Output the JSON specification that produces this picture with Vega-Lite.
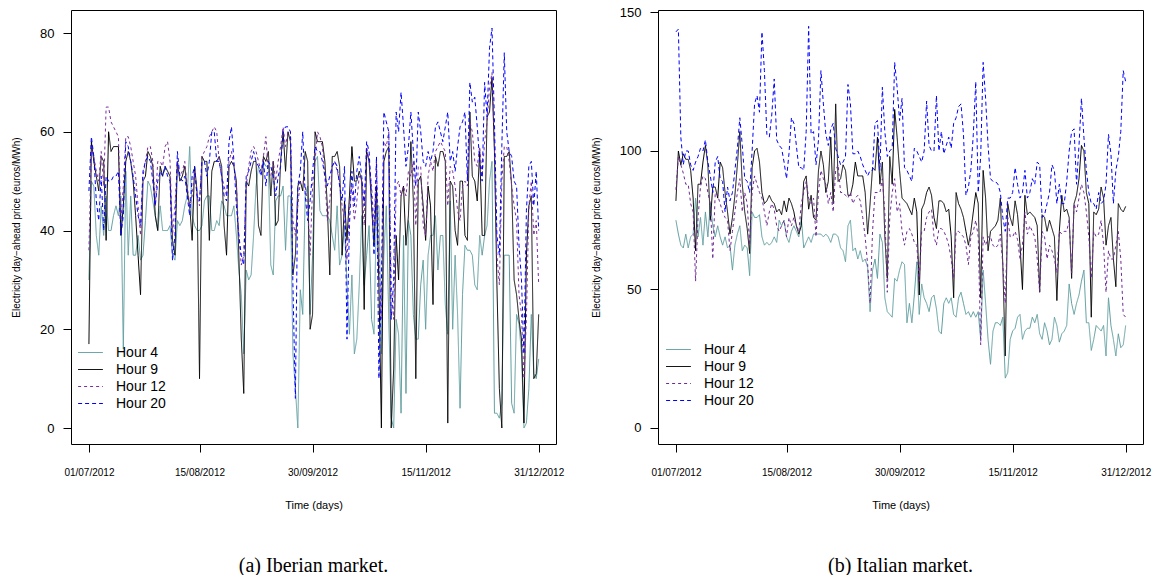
{
"$schema": "https://vega.github.io/schema/vega-lite/v6.json",
"background": "white",
"padding": {"left": 11, "top": 5, "right": 0, "bottom": 0},
"bounds": "flush",
"spacing": 102,
"datasets": {
"iberian": [
{"d":"2012-07-01","h4":30,"h9":17,"h12":36,"h20":48},
{"d":"2012-07-02","h4":50,"h9":58,"h12":57,"h20":59},
{"d":"2012-07-03","h4":49,"h9":54,"h12":55,"h20":55},
{"d":"2012-07-04","h4":39,"h9":51,"h12":52,"h20":46},
{"d":"2012-07-05","h4":35,"h9":48,"h12":50,"h20":42},
{"d":"2012-07-06","h4":45,"h9":55,"h12":56,"h20":51},
{"d":"2012-07-07","h4":39,"h9":54,"h12":49,"h20":40},
{"d":"2012-07-08","h4":47,"h9":38,"h12":65,"h20":51},
{"d":"2012-07-09","h4":40,"h9":60,"h12":65,"h20":50},
{"d":"2012-07-10","h4":40,"h9":56,"h12":62,"h20":50},
{"d":"2012-07-11","h4":43,"h9":57,"h12":61,"h20":51},
{"d":"2012-07-12","h4":45,"h9":57,"h12":60,"h20":51},
{"d":"2012-07-13","h4":43,"h9":57,"h12":59,"h20":52},
{"d":"2012-07-14","h4":47,"h9":39,"h12":42,"h20":39},
{"d":"2012-07-15","h4":16,"h9":45,"h12":49,"h20":43},
{"d":"2012-07-16","h4":52,"h9":54,"h12":59,"h20":58},
{"d":"2012-07-17","h4":35,"h9":56,"h12":59,"h20":57},
{"d":"2012-07-18","h4":47,"h9":54,"h12":57,"h20":54},
{"d":"2012-07-19","h4":35,"h9":50,"h12":54,"h20":51},
{"d":"2012-07-20","h4":35,"h9":43,"h12":51,"h20":47},
{"d":"2012-07-21","h4":39,"h9":35,"h12":45,"h20":43},
{"d":"2012-07-22","h4":34,"h9":27,"h12":39,"h20":41},
{"d":"2012-07-23","h4":35,"h9":50,"h12":51,"h20":52},
{"d":"2012-07-24","h4":42,"h9":51,"h12":54,"h20":54},
{"d":"2012-07-25","h4":50,"h9":56,"h12":57,"h20":55},
{"d":"2012-07-26","h4":49,"h9":55,"h12":57,"h20":54},
{"d":"2012-07-27","h4":46,"h9":53,"h12":54,"h20":50},
{"d":"2012-07-28","h4":43,"h9":43,"h12":45,"h20":45},
{"d":"2012-07-29","h4":40,"h9":40,"h12":54,"h20":50},
{"d":"2012-07-30","h4":45,"h9":53,"h12":54,"h20":52},
{"d":"2012-07-31","h4":40,"h9":51,"h12":53,"h20":51},
{"d":"2012-08-01","h4":40,"h9":53,"h12":57,"h20":53},
{"d":"2012-08-02","h4":40,"h9":52,"h12":58,"h20":51},
{"d":"2012-08-03","h4":41,"h9":51,"h12":54,"h20":50},
{"d":"2012-08-04","h4":35,"h9":38,"h12":39,"h20":34},
{"d":"2012-08-05","h4":34,"h9":35,"h12":45,"h20":39},
{"d":"2012-08-06","h4":42,"h9":54,"h12":54,"h20":56},
{"d":"2012-08-07","h4":41,"h9":50,"h12":51,"h20":51},
{"d":"2012-08-08","h4":42,"h9":51,"h12":52,"h20":50},
{"d":"2012-08-09","h4":45,"h9":53,"h12":54,"h20":51},
{"d":"2012-08-10","h4":47,"h9":48,"h12":49,"h20":47},
{"d":"2012-08-11","h4":57,"h9":45,"h12":45,"h20":43},
{"d":"2012-08-12","h4":43,"h9":38,"h12":47,"h20":51},
{"d":"2012-08-13","h4":41,"h9":53,"h12":52,"h20":53},
{"d":"2012-08-14","h4":40,"h9":48,"h12":47,"h20":47},
{"d":"2012-08-15","h4":40,"h9":10,"h12":45,"h20":46},
{"d":"2012-08-16","h4":41,"h9":55,"h12":55,"h20":54},
{"d":"2012-08-17","h4":46,"h9":54,"h12":56,"h20":54},
{"d":"2012-08-18","h4":47,"h9":54,"h12":57,"h20":51},
{"d":"2012-08-19","h4":47,"h9":38,"h12":59,"h20":54},
{"d":"2012-08-20","h4":40,"h9":52,"h12":60,"h20":60},
{"d":"2012-08-21","h4":40,"h9":54,"h12":61,"h20":60},
{"d":"2012-08-22","h4":42,"h9":54,"h12":60,"h20":54},
{"d":"2012-08-23","h4":41,"h9":55,"h12":54,"h20":54},
{"d":"2012-08-24","h4":46,"h9":53,"h12":51,"h20":51},
{"d":"2012-08-25","h4":45,"h9":41,"h12":49,"h20":47},
{"d":"2012-08-26","h4":43,"h9":35,"h12":47,"h20":46},
{"d":"2012-08-27","h4":43,"h9":53,"h12":54,"h20":58},
{"d":"2012-08-28","h4":43,"h9":54,"h12":56,"h20":61},
{"d":"2012-08-29","h4":45,"h9":53,"h12":53,"h20":54},
{"d":"2012-08-30","h4":39,"h9":50,"h12":49,"h20":45},
{"d":"2012-08-31","h4":32,"h9":35,"h12":39,"h20":39},
{"d":"2012-09-01","h4":27,"h9":18,"h12":33,"h20":35},
{"d":"2012-09-02","h4":15,"h9":7,"h12":35,"h20":33},
{"d":"2012-09-03","h4":32,"h9":50,"h12":49,"h20":51},
{"d":"2012-09-04","h4":30,"h9":49,"h12":53,"h20":52},
{"d":"2012-09-05","h4":31,"h9":52,"h12":56,"h20":54},
{"d":"2012-09-06","h4":39,"h9":54,"h12":57,"h20":56},
{"d":"2012-09-07","h4":49,"h9":54,"h12":56,"h20":54},
{"d":"2012-09-08","h4":53,"h9":41,"h12":54,"h20":53},
{"d":"2012-09-09","h4":52,"h9":39,"h12":52,"h20":51},
{"d":"2012-09-10","h4":54,"h9":55,"h12":55,"h20":54},
{"d":"2012-09-11","h4":53,"h9":54,"h12":59,"h20":49},
{"d":"2012-09-12","h4":53,"h9":56,"h12":52,"h20":54},
{"d":"2012-09-13","h4":33,"h9":47,"h12":51,"h20":53},
{"d":"2012-09-14","h4":31,"h9":54,"h12":54,"h20":51},
{"d":"2012-09-15","h4":46,"h9":41,"h12":50,"h20":47},
{"d":"2012-09-16","h4":47,"h9":42,"h12":54,"h20":51},
{"d":"2012-09-17","h4":47,"h9":54,"h12":57,"h20":53},
{"d":"2012-09-18","h4":49,"h9":60,"h12":61,"h20":60},
{"d":"2012-09-19","h4":36,"h9":52,"h12":57,"h20":61},
{"d":"2012-09-20","h4":47,"h9":60,"h12":60,"h20":61},
{"d":"2012-09-21","h4":47,"h9":58,"h12":60,"h20":60},
{"d":"2012-09-22","h4":15,"h9":31,"h12":42,"h20":29},
{"d":"2012-09-23","h4":8,"h9":35,"h12":39,"h20":6},
{"d":"2012-09-24","h4":0,"h9":49,"h12":45,"h20":49},
{"d":"2012-09-25","h4":28,"h9":50,"h12":50,"h20":52},
{"d":"2012-09-26","h4":23,"h9":48,"h12":50,"h20":60},
{"d":"2012-09-27","h4":47,"h9":56,"h12":49,"h20":47},
{"d":"2012-09-28","h4":49,"h9":54,"h12":45,"h20":42},
{"d":"2012-09-29","h4":23,"h9":20,"h12":35,"h20":46},
{"d":"2012-09-30","h4":35,"h9":23,"h12":49,"h20":52},
{"d":"2012-10-01","h4":54,"h9":60,"h12":54,"h20":57},
{"d":"2012-10-02","h4":55,"h9":58,"h12":60,"h20":56},
{"d":"2012-10-03","h4":44,"h9":58,"h12":59,"h20":56},
{"d":"2012-10-04","h4":43,"h9":58,"h12":57,"h20":54},
{"d":"2012-10-05","h4":43,"h9":54,"h12":51,"h20":51},
{"d":"2012-10-06","h4":43,"h9":45,"h12":42,"h20":49},
{"d":"2012-10-07","h4":42,"h9":31,"h12":46,"h20":51},
{"d":"2012-10-08","h4":39,"h9":55,"h12":53,"h20":53},
{"d":"2012-10-09","h4":36,"h9":55,"h12":54,"h20":54},
{"d":"2012-10-10","h4":45,"h9":56,"h12":52,"h20":53},
{"d":"2012-10-11","h4":33,"h9":53,"h12":50,"h20":49},
{"d":"2012-10-12","h4":35,"h9":35,"h12":45,"h20":46},
{"d":"2012-10-13","h4":41,"h9":46,"h12":42,"h20":53},
{"d":"2012-10-14","h4":29,"h9":38,"h12":34,"h20":18},
{"d":"2012-10-15","h4":19,"h9":47,"h12":45,"h20":41},
{"d":"2012-10-16","h4":31,"h9":57,"h12":49,"h20":52},
{"d":"2012-10-17","h4":15,"h9":50,"h12":42,"h20":45},
{"d":"2012-10-18","h4":18,"h9":50,"h12":46,"h20":52},
{"d":"2012-10-19","h4":29,"h9":52,"h12":51,"h20":55},
{"d":"2012-10-20","h4":43,"h9":50,"h12":50,"h20":51},
{"d":"2012-10-21","h4":29,"h9":24,"h12":41,"h20":45},
{"d":"2012-10-22","h4":35,"h9":56,"h12":57,"h20":58},
{"d":"2012-10-23","h4":41,"h9":54,"h12":54,"h20":56},
{"d":"2012-10-24","h4":22,"h9":45,"h12":49,"h20":47},
{"d":"2012-10-25","h4":19,"h9":37,"h12":41,"h20":35},
{"d":"2012-10-26","h4":45,"h9":49,"h12":54,"h20":55},
{"d":"2012-10-27","h4":45,"h9":29,"h12":35,"h20":10},
{"d":"2012-10-28","h4":15,"h9":0,"h12":22,"h20":29},
{"d":"2012-10-29","h4":35,"h9":54,"h12":58,"h20":64},
{"d":"2012-10-30","h4":45,"h9":56,"h12":57,"h20":62},
{"d":"2012-10-31","h4":22,"h9":57,"h12":60,"h20":60},
{"d":"2012-11-01","h4":2,"h9":0,"h12":29,"h20":22},
{"d":"2012-11-02","h4":0,"h9":12,"h12":22,"h20":30},
{"d":"2012-11-03","h4":22,"h9":39,"h12":49,"h20":64},
{"d":"2012-11-04","h4":19,"h9":30,"h12":50,"h20":60},
{"d":"2012-11-05","h4":3,"h9":47,"h12":47,"h20":68},
{"d":"2012-11-06","h4":39,"h9":49,"h12":49,"h20":61},
{"d":"2012-11-07","h4":7,"h9":37,"h12":47,"h20":53},
{"d":"2012-11-08","h4":42,"h9":43,"h12":52,"h20":57},
{"d":"2012-11-09","h4":39,"h9":58,"h12":51,"h20":64},
{"d":"2012-11-10","h4":23,"h9":46,"h12":54,"h20":56},
{"d":"2012-11-11","h4":18,"h9":10,"h12":41,"h20":49},
{"d":"2012-11-12","h4":18,"h9":50,"h12":53,"h20":64},
{"d":"2012-11-13","h4":29,"h9":51,"h12":53,"h20":60},
{"d":"2012-11-14","h4":34,"h9":45,"h12":41,"h20":54},
{"d":"2012-11-15","h4":20,"h9":38,"h12":39,"h20":53},
{"d":"2012-11-16","h4":35,"h9":49,"h12":51,"h20":56},
{"d":"2012-11-17","h4":39,"h9":45,"h12":54,"h20":54},
{"d":"2012-11-18","h4":39,"h9":25,"h12":52,"h20":56},
{"d":"2012-11-19","h4":43,"h9":55,"h12":56,"h20":61},
{"d":"2012-11-20","h4":32,"h9":53,"h12":57,"h20":62},
{"d":"2012-11-21","h4":39,"h9":56,"h12":58,"h20":60},
{"d":"2012-11-22","h4":39,"h9":56,"h12":57,"h20":58},
{"d":"2012-11-23","h4":25,"h9":54,"h12":56,"h20":61},
{"d":"2012-11-24","h4":19,"h9":1,"h12":45,"h20":64},
{"d":"2012-11-25","h4":46,"h9":50,"h12":53,"h20":54},
{"d":"2012-11-26","h4":20,"h9":49,"h12":52,"h20":56},
{"d":"2012-11-27","h4":35,"h9":40,"h12":49,"h20":52},
{"d":"2012-11-28","h4":23,"h9":37,"h12":44,"h20":57},
{"d":"2012-11-29","h4":4,"h9":50,"h12":42,"h20":61},
{"d":"2012-11-30","h4":27,"h9":50,"h12":49,"h20":62},
{"d":"2012-12-01","h4":37,"h9":39,"h12":50,"h20":64},
{"d":"2012-12-02","h4":36,"h9":38,"h12":49,"h20":50},
{"d":"2012-12-03","h4":36,"h9":64,"h12":62,"h20":70},
{"d":"2012-12-04","h4":35,"h9":51,"h12":60,"h20":66},
{"d":"2012-12-05","h4":29,"h9":50,"h12":54,"h20":67},
{"d":"2012-12-06","h4":28,"h9":46,"h12":53,"h20":61},
{"d":"2012-12-07","h4":39,"h9":56,"h12":57,"h20":54},
{"d":"2012-12-08","h4":35,"h9":39,"h12":51,"h20":50},
{"d":"2012-12-09","h4":39,"h9":39,"h12":58,"h20":70},
{"d":"2012-12-10","h4":41,"h9":63,"h12":62,"h20":63},
{"d":"2012-12-11","h4":50,"h9":64,"h12":69,"h20":77},
{"d":"2012-12-12","h4":54,"h9":71,"h12":72,"h20":81},
{"d":"2012-12-13","h4":3,"h9":56,"h12":57,"h20":62},
{"d":"2012-12-14","h4":3,"h9":29,"h12":35,"h20":39},
{"d":"2012-12-15","h4":2,"h9":8,"h12":29,"h20":35},
{"d":"2012-12-16","h4":5,"h9":0,"h12":50,"h20":57},
{"d":"2012-12-17","h4":35,"h9":55,"h12":57,"h20":76},
{"d":"2012-12-18","h4":35,"h9":55,"h12":57,"h20":60},
{"d":"2012-12-19","h4":35,"h9":56,"h12":54,"h20":56},
{"d":"2012-12-20","h4":5,"h9":49,"h12":49,"h20":55},
{"d":"2012-12-21","h4":3,"h9":30,"h12":45,"h20":50},
{"d":"2012-12-22","h4":23,"h9":27,"h12":42,"h20":49},
{"d":"2012-12-23","h4":21,"h9":22,"h12":27,"h20":37},
{"d":"2012-12-24","h4":15,"h9":18,"h12":23,"h20":30},
{"d":"2012-12-25","h4":0,"h9":1,"h12":10,"h20":15},
{"d":"2012-12-26","h4":1,"h9":35,"h12":22,"h20":44},
{"d":"2012-12-27","h4":8,"h9":45,"h12":45,"h20":53},
{"d":"2012-12-28","h4":23,"h9":47,"h12":50,"h20":54},
{"d":"2012-12-29","h4":11,"h9":10,"h12":39,"h20":45},
{"d":"2012-12-30","h4":10,"h9":11,"h12":42,"h20":52},
{"d":"2012-12-31","h4":14,"h9":23,"h12":29,"h20":40}
],
"italian": [
{"d":"2012-07-01","h4":75,"h9":82,"h12":86,"h20":143},
{"d":"2012-07-02","h4":70,"h9":100,"h12":98,"h20":144},
{"d":"2012-07-03","h4":66,"h9":95,"h12":95,"h20":105},
{"d":"2012-07-04","h4":65,"h9":99,"h12":92,"h20":95},
{"d":"2012-07-05","h4":70,"h9":97,"h12":88,"h20":100},
{"d":"2012-07-06","h4":65,"h9":97,"h12":88,"h20":100},
{"d":"2012-07-07","h4":69,"h9":93,"h12":81,"h20":95},
{"d":"2012-07-08","h4":70,"h9":83,"h12":78,"h20":93},
{"d":"2012-07-09","h4":83,"h9":64,"h12":53,"h20":96},
{"d":"2012-07-10","h4":69,"h9":88,"h12":76,"h20":98},
{"d":"2012-07-11","h4":76,"h9":88,"h12":87,"h20":101},
{"d":"2012-07-12","h4":66,"h9":96,"h12":91,"h20":100},
{"d":"2012-07-13","h4":78,"h9":102,"h12":90,"h20":104},
{"d":"2012-07-14","h4":69,"h9":95,"h12":85,"h20":96},
{"d":"2012-07-15","h4":81,"h9":75,"h12":81,"h20":91},
{"d":"2012-07-16","h4":73,"h9":87,"h12":61,"h20":85},
{"d":"2012-07-17","h4":69,"h9":87,"h12":85,"h20":96},
{"d":"2012-07-18","h4":73,"h9":83,"h12":84,"h20":98},
{"d":"2012-07-19","h4":69,"h9":96,"h12":81,"h20":90},
{"d":"2012-07-20","h4":66,"h9":94,"h12":78,"h20":89},
{"d":"2012-07-21","h4":69,"h9":85,"h12":76,"h20":78},
{"d":"2012-07-22","h4":65,"h9":78,"h12":75,"h20":87},
{"d":"2012-07-23","h4":66,"h9":70,"h12":64,"h20":82},
{"d":"2012-07-24","h4":57,"h9":76,"h12":71,"h20":85},
{"d":"2012-07-25","h4":66,"h9":84,"h12":78,"h20":93},
{"d":"2012-07-26","h4":70,"h9":95,"h12":85,"h20":101},
{"d":"2012-07-27","h4":73,"h9":107,"h12":90,"h20":112},
{"d":"2012-07-28","h4":64,"h9":88,"h12":78,"h20":102},
{"d":"2012-07-29","h4":66,"h9":78,"h12":85,"h20":90},
{"d":"2012-07-30","h4":65,"h9":72,"h12":81,"h20":89},
{"d":"2012-07-31","h4":55,"h9":63,"h12":66,"h20":85},
{"d":"2012-08-01","h4":78,"h9":94,"h12":85,"h20":100},
{"d":"2012-08-02","h4":76,"h9":100,"h12":91,"h20":117},
{"d":"2012-08-03","h4":76,"h9":101,"h12":88,"h20":120},
{"d":"2012-08-04","h4":77,"h9":96,"h12":85,"h20":114},
{"d":"2012-08-05","h4":69,"h9":85,"h12":83,"h20":143},
{"d":"2012-08-06","h4":66,"h9":81,"h12":78,"h20":129},
{"d":"2012-08-07","h4":67,"h9":82,"h12":73,"h20":106},
{"d":"2012-08-08","h4":66,"h9":84,"h12":78,"h20":105},
{"d":"2012-08-09","h4":67,"h9":82,"h12":81,"h20":113},
{"d":"2012-08-10","h4":69,"h9":81,"h12":79,"h20":126},
{"d":"2012-08-11","h4":67,"h9":78,"h12":73,"h20":104},
{"d":"2012-08-12","h4":75,"h9":79,"h12":71,"h20":102},
{"d":"2012-08-13","h4":73,"h9":77,"h12":73,"h20":101},
{"d":"2012-08-14","h4":75,"h9":82,"h12":75,"h20":96},
{"d":"2012-08-15","h4":69,"h9":78,"h12":69,"h20":90},
{"d":"2012-08-16","h4":67,"h9":83,"h12":76,"h20":99},
{"d":"2012-08-17","h4":71,"h9":81,"h12":73,"h20":112},
{"d":"2012-08-18","h4":73,"h9":78,"h12":76,"h20":110},
{"d":"2012-08-19","h4":71,"h9":73,"h12":73,"h20":102},
{"d":"2012-08-20","h4":69,"h9":70,"h12":71,"h20":94},
{"d":"2012-08-21","h4":76,"h9":73,"h12":81,"h20":94},
{"d":"2012-08-22","h4":65,"h9":89,"h12":85,"h20":93},
{"d":"2012-08-23","h4":67,"h9":91,"h12":89,"h20":107},
{"d":"2012-08-24","h4":69,"h9":79,"h12":83,"h20":145},
{"d":"2012-08-25","h4":67,"h9":84,"h12":81,"h20":106},
{"d":"2012-08-26","h4":70,"h9":76,"h12":83,"h20":107},
{"d":"2012-08-27","h4":70,"h9":75,"h12":69,"h20":95},
{"d":"2012-08-28","h4":70,"h9":93,"h12":85,"h20":104},
{"d":"2012-08-29","h4":70,"h9":100,"h12":93,"h20":129},
{"d":"2012-08-30","h4":69,"h9":95,"h12":90,"h20":117},
{"d":"2012-08-31","h4":70,"h9":85,"h12":88,"h20":106},
{"d":"2012-09-01","h4":69,"h9":89,"h12":81,"h20":102},
{"d":"2012-09-02","h4":67,"h9":105,"h12":85,"h20":108},
{"d":"2012-09-03","h4":70,"h9":81,"h12":78,"h20":110},
{"d":"2012-09-04","h4":70,"h9":117,"h12":93,"h20":101},
{"d":"2012-09-05","h4":69,"h9":89,"h12":95,"h20":98},
{"d":"2012-09-06","h4":65,"h9":90,"h12":85,"h20":95},
{"d":"2012-09-07","h4":64,"h9":95,"h12":85,"h20":96},
{"d":"2012-09-08","h4":60,"h9":93,"h12":84,"h20":98},
{"d":"2012-09-09","h4":73,"h9":84,"h12":83,"h20":124},
{"d":"2012-09-10","h4":75,"h9":84,"h12":85,"h20":117},
{"d":"2012-09-11","h4":64,"h9":88,"h12":81,"h20":99},
{"d":"2012-09-12","h4":65,"h9":96,"h12":83,"h20":99},
{"d":"2012-09-13","h4":61,"h9":91,"h12":84,"h20":100},
{"d":"2012-09-14","h4":64,"h9":91,"h12":82,"h20":98},
{"d":"2012-09-15","h4":60,"h9":91,"h12":76,"h20":95},
{"d":"2012-09-16","h4":61,"h9":85,"h12":69,"h20":93},
{"d":"2012-09-17","h4":58,"h9":70,"h12":59,"h20":91},
{"d":"2012-09-18","h4":42,"h9":81,"h12":45,"h20":93},
{"d":"2012-09-19","h4":57,"h9":94,"h12":71,"h20":93},
{"d":"2012-09-20","h4":61,"h9":93,"h12":85,"h20":110},
{"d":"2012-09-21","h4":54,"h9":105,"h12":85,"h20":111},
{"d":"2012-09-22","h4":70,"h9":88,"h12":85,"h20":93},
{"d":"2012-09-23","h4":67,"h9":96,"h12":90,"h20":123},
{"d":"2012-09-24","h4":47,"h9":69,"h12":78,"h20":107},
{"d":"2012-09-25","h4":42,"h9":54,"h12":49,"h20":98},
{"d":"2012-09-26","h4":41,"h9":98,"h12":76,"h20":100},
{"d":"2012-09-27","h4":40,"h9":88,"h12":85,"h20":101},
{"d":"2012-09-28","h4":54,"h9":115,"h12":90,"h20":132},
{"d":"2012-09-29","h4":53,"h9":105,"h12":78,"h20":123},
{"d":"2012-09-30","h4":57,"h9":93,"h12":81,"h20":111},
{"d":"2012-10-01","h4":60,"h9":83,"h12":71,"h20":119},
{"d":"2012-10-02","h4":59,"h9":82,"h12":66,"h20":94},
{"d":"2012-10-03","h4":38,"h9":81,"h12":71,"h20":93},
{"d":"2012-10-04","h4":45,"h9":79,"h12":72,"h20":91},
{"d":"2012-10-05","h4":38,"h9":77,"h12":70,"h20":89},
{"d":"2012-10-06","h4":48,"h9":83,"h12":67,"h20":101},
{"d":"2012-10-07","h4":60,"h9":78,"h12":66,"h20":100},
{"d":"2012-10-08","h4":41,"h9":48,"h12":53,"h20":98},
{"d":"2012-10-09","h4":52,"h9":79,"h12":71,"h20":96},
{"d":"2012-10-10","h4":47,"h9":81,"h12":71,"h20":100},
{"d":"2012-10-11","h4":45,"h9":85,"h12":76,"h20":118},
{"d":"2012-10-12","h4":42,"h9":87,"h12":78,"h20":102},
{"d":"2012-10-13","h4":47,"h9":84,"h12":79,"h20":100},
{"d":"2012-10-14","h4":48,"h9":76,"h12":69,"h20":100},
{"d":"2012-10-15","h4":43,"h9":72,"h12":66,"h20":120},
{"d":"2012-10-16","h4":35,"h9":82,"h12":72,"h20":100},
{"d":"2012-10-17","h4":34,"h9":82,"h12":72,"h20":107},
{"d":"2012-10-18","h4":45,"h9":81,"h12":71,"h20":99},
{"d":"2012-10-19","h4":47,"h9":78,"h12":69,"h20":102},
{"d":"2012-10-20","h4":45,"h9":79,"h12":66,"h20":105},
{"d":"2012-10-21","h4":47,"h9":69,"h12":61,"h20":101},
{"d":"2012-10-22","h4":41,"h9":47,"h12":54,"h20":110},
{"d":"2012-10-23","h4":40,"h9":85,"h12":71,"h20":112},
{"d":"2012-10-24","h4":47,"h9":81,"h12":71,"h20":116},
{"d":"2012-10-25","h4":49,"h9":79,"h12":70,"h20":117},
{"d":"2012-10-26","h4":45,"h9":76,"h12":69,"h20":106},
{"d":"2012-10-27","h4":41,"h9":71,"h12":66,"h20":84},
{"d":"2012-10-28","h4":42,"h9":66,"h12":59,"h20":87},
{"d":"2012-10-29","h4":40,"h9":71,"h12":69,"h20":93},
{"d":"2012-10-30","h4":42,"h9":78,"h12":71,"h20":106},
{"d":"2012-10-31","h4":40,"h9":85,"h12":75,"h20":125},
{"d":"2012-11-01","h4":42,"h9":81,"h12":69,"h20":85},
{"d":"2012-11-02","h4":32,"h9":47,"h12":30,"h20":98},
{"d":"2012-11-03","h4":57,"h9":93,"h12":69,"h20":132},
{"d":"2012-11-04","h4":45,"h9":83,"h12":66,"h20":119},
{"d":"2012-11-05","h4":32,"h9":64,"h12":69,"h20":102},
{"d":"2012-11-06","h4":23,"h9":71,"h12":69,"h20":90},
{"d":"2012-11-07","h4":35,"h9":72,"h12":66,"h20":89},
{"d":"2012-11-08","h4":38,"h9":73,"h12":65,"h20":89},
{"d":"2012-11-09","h4":38,"h9":75,"h12":66,"h20":88},
{"d":"2012-11-10","h4":37,"h9":83,"h12":70,"h20":85},
{"d":"2012-11-11","h4":40,"h9":59,"h12":59,"h20":76},
{"d":"2012-11-12","h4":18,"h9":26,"h12":45,"h20":71},
{"d":"2012-11-13","h4":20,"h9":81,"h12":76,"h20":83},
{"d":"2012-11-14","h4":32,"h9":76,"h12":69,"h20":83},
{"d":"2012-11-15","h4":35,"h9":73,"h12":69,"h20":85},
{"d":"2012-11-16","h4":36,"h9":82,"h12":71,"h20":94},
{"d":"2012-11-17","h4":40,"h9":77,"h12":68,"h20":88},
{"d":"2012-11-18","h4":41,"h9":66,"h12":61,"h20":83},
{"d":"2012-11-19","h4":32,"h9":50,"h12":66,"h20":85},
{"d":"2012-11-20","h4":35,"h9":84,"h12":78,"h20":93},
{"d":"2012-11-21","h4":36,"h9":77,"h12":70,"h20":83},
{"d":"2012-11-22","h4":36,"h9":78,"h12":73,"h20":85},
{"d":"2012-11-23","h4":40,"h9":77,"h12":71,"h20":90},
{"d":"2012-11-24","h4":38,"h9":76,"h12":69,"h20":88},
{"d":"2012-11-25","h4":41,"h9":73,"h12":61,"h20":96},
{"d":"2012-11-26","h4":34,"h9":49,"h12":49,"h20":95},
{"d":"2012-11-27","h4":32,"h9":77,"h12":71,"h20":76},
{"d":"2012-11-28","h4":38,"h9":76,"h12":69,"h20":77},
{"d":"2012-11-29","h4":35,"h9":71,"h12":61,"h20":81},
{"d":"2012-11-30","h4":30,"h9":75,"h12":66,"h20":85},
{"d":"2012-12-01","h4":32,"h9":72,"h12":64,"h20":95},
{"d":"2012-12-02","h4":40,"h9":69,"h12":61,"h20":93},
{"d":"2012-12-03","h4":37,"h9":46,"h12":56,"h20":81},
{"d":"2012-12-04","h4":31,"h9":71,"h12":71,"h20":88},
{"d":"2012-12-05","h4":34,"h9":84,"h12":70,"h20":81},
{"d":"2012-12-06","h4":35,"h9":78,"h12":71,"h20":81},
{"d":"2012-12-07","h4":37,"h9":79,"h12":71,"h20":89},
{"d":"2012-12-08","h4":52,"h9":76,"h12":75,"h20":100},
{"d":"2012-12-09","h4":45,"h9":54,"h12":56,"h20":107},
{"d":"2012-12-10","h4":41,"h9":81,"h12":81,"h20":108},
{"d":"2012-12-11","h4":45,"h9":84,"h12":78,"h20":88},
{"d":"2012-12-12","h4":48,"h9":90,"h12":83,"h20":102},
{"d":"2012-12-13","h4":53,"h9":102,"h12":88,"h20":119},
{"d":"2012-12-14","h4":57,"h9":100,"h12":85,"h20":105},
{"d":"2012-12-15","h4":38,"h9":85,"h12":78,"h20":93},
{"d":"2012-12-16","h4":38,"h9":81,"h12":69,"h20":85},
{"d":"2012-12-17","h4":28,"h9":40,"h12":54,"h20":81},
{"d":"2012-12-18","h4":32,"h9":78,"h12":71,"h20":81},
{"d":"2012-12-19","h4":37,"h9":77,"h12":69,"h20":79},
{"d":"2012-12-20","h4":36,"h9":79,"h12":70,"h20":85},
{"d":"2012-12-21","h4":35,"h9":87,"h12":75,"h20":81},
{"d":"2012-12-22","h4":37,"h9":83,"h12":66,"h20":82},
{"d":"2012-12-23","h4":26,"h9":66,"h12":49,"h20":88},
{"d":"2012-12-24","h4":47,"h9":73,"h12":64,"h20":106},
{"d":"2012-12-25","h4":37,"h9":76,"h12":61,"h20":99},
{"d":"2012-12-26","h4":32,"h9":61,"h12":61,"h20":81},
{"d":"2012-12-27","h4":26,"h9":51,"h12":66,"h20":93},
{"d":"2012-12-28","h4":34,"h9":81,"h12":71,"h20":98},
{"d":"2012-12-29","h4":29,"h9":79,"h12":61,"h20":107},
{"d":"2012-12-30","h4":30,"h9":78,"h12":41,"h20":129},
{"d":"2012-12-31","h4":37,"h9":80,"h12":40,"h20":125}
]
},
"hconcat": [
{
"width": 485, "height": 434,
"data": {"name": "iberian"},
"transform": [{"fold": ["h4", "h9", "h12", "h20"], "as": ["series", "price"]}],
"title": {"text": "(a) Iberian market.", "orient": "bottom", "frame": "group", "anchor": "middle", "offset": 46},
"mark": {"type": "line", "strokeWidth": 1},
"encoding": {
"x": {"field": "d", "type": "temporal",
"scale": {"type": "utc", "domain": [{"year": 2012, "month": 6, "date": 23, "hours": 17, "utc": true}, {"year": 2013, "month": 1, "date": 7, "hours": 1, "utc": true}]},
"axis": {"values": [{"year": 2012, "month": 7, "date": 1, "utc": true}, {"year": 2012, "month": 8, "date": 15, "utc": true}, {"year": 2012, "month": 9, "date": 30, "utc": true}, {"year": 2012, "month": 11, "date": 15, "utc": true}, {"year": 2012, "month": 12, "date": 31, "utc": true}], "labelExpr": "utcFormat(datum.value, '%d/%m/%Y')", "title": "Time (days)", "labelFontSize": 10, "titleFontSize": 11, "tickSize": 8, "labelPadding": 15, "titlePadding": 22, "labelFlush": false, "labelOverlap": false}},
"y": {"field": "price", "type": "quantitative",
"scale": {"domain": [-3.24, 84.66], "nice": false, "zero": false},
"axis": {"values": [0, 20, 40, 60, 80], "title": "Electricity day−ahead price (euros/MWh)", "labelFontSize": 13, "titleFontSize": 10, "tickSize": 8, "labelPadding": 9, "titlePadding": 18}},
"color": {"field": "series", "type": "nominal",
"scale": {"domain": ["h4", "h9", "h12", "h20"], "range": ["#5F9EA0", "#000000", "#7B2F9E", "#0000FF"]},
"legend": {"orient": "none", "legendX": 11, "legendY": 334, "title": null, "labelExpr": "'Hour ' + slice(datum.label, 1)",
"encode": {"symbols": {"update": {
"stroke": {"signal": "datum.value === 'h4' ? '#5F9EA0' : datum.value === 'h9' ? '#000000' : datum.value === 'h12' ? '#7B2F9E' : '#0000FF'"},
"strokeDash": {"signal": "datum.value === 'h12' ? [3,3] : datum.value === 'h20' ? [4,3] : [1,0]"}}}}}},
"strokeDash": {"field": "series", "type": "nominal",
"scale": {"domain": ["h4", "h9", "h12", "h20"], "range": [[1, 0], [1, 0], [3, 3], [4, 3]]},
"legend": null}
}
},
{
"width": 485, "height": 434,
"data": {"name": "italian"},
"transform": [{"fold": ["h4", "h9", "h12", "h20"], "as": ["series", "price"]}],
"title": {"text": "(b) Italian market.", "orient": "bottom", "frame": "group", "anchor": "middle", "offset": 46},
"mark": {"type": "line", "strokeWidth": 1},
"encoding": {
"x": {"field": "d", "type": "temporal",
"scale": {"type": "utc", "domain": [{"year": 2012, "month": 6, "date": 23, "hours": 17, "utc": true}, {"year": 2013, "month": 1, "date": 7, "hours": 1, "utc": true}]},
"axis": {"values": [{"year": 2012, "month": 7, "date": 1, "utc": true}, {"year": 2012, "month": 8, "date": 15, "utc": true}, {"year": 2012, "month": 9, "date": 30, "utc": true}, {"year": 2012, "month": 11, "date": 15, "utc": true}, {"year": 2012, "month": 12, "date": 31, "utc": true}], "labelExpr": "utcFormat(datum.value, '%d/%m/%Y')", "title": "Time (days)", "labelFontSize": 10, "titleFontSize": 11, "tickSize": 8, "labelPadding": 15, "titlePadding": 22, "labelFlush": false, "labelOverlap": false}},
"y": {"field": "price", "type": "quantitative",
"scale": {"domain": [-5.78, 150.9], "nice": false, "zero": false},
"axis": {"values": [0, 50, 100, 150], "title": "Electricity day−ahead price (euros/MWh)", "labelFontSize": 13, "titleFontSize": 10, "tickSize": 8, "labelPadding": 9, "titlePadding": 18}},
"color": {"field": "series", "type": "nominal",
"scale": {"domain": ["h4", "h9", "h12", "h20"], "range": ["#5F9EA0", "#000000", "#6E2A96", "#0000FF"]},
"legend": {"orient": "none", "legendX": 12, "legendY": 331, "title": null, "labelExpr": "'Hour ' + slice(datum.label, 1)",
"encode": {"symbols": {"update": {
"stroke": {"signal": "datum.value === 'h4' ? '#5F9EA0' : datum.value === 'h9' ? '#000000' : datum.value === 'h12' ? '#6E2A96' : '#0000FF'"},
"strokeDash": {"signal": "datum.value === 'h12' ? [3,3] : datum.value === 'h20' ? [4,3] : [1,0]"}}}}}},
"strokeDash": {"field": "series", "type": "nominal",
"scale": {"domain": ["h4", "h9", "h12", "h20"], "range": [[1, 0], [1, 0], [3, 3], [4, 3]]},
"legend": null}
}
}
],
"resolve": {"scale": {"color": "independent", "strokeDash": "independent", "x": "independent", "y": "independent"}, "legend": {"color": "independent", "strokeDash": "independent"}},
"config": {
"font": "Liberation Sans",
"view": {"stroke": "#000000", "strokeWidth": 1},
"axis": {"domain": false, "grid": false, "tickColor": "#000000", "labelColor": "#000000", "titleColor": "#000000", "titleFontWeight": "normal", "labelFont": "Liberation Sans", "titleFont": "Liberation Sans"},
"legend": {"symbolType": "M-1.55,0H1.55", "symbolSize": 256, "symbolStrokeWidth": 1, "labelFontSize": 14, "labelOffset": 17, "rowPadding": 1, "labelColor": "#000000", "padding": 0, "labelFont": "Liberation Sans"},
"title": {"font": "Liberation Serif", "fontSize": 20, "fontWeight": "normal", "color": "#000000"}
}
}
